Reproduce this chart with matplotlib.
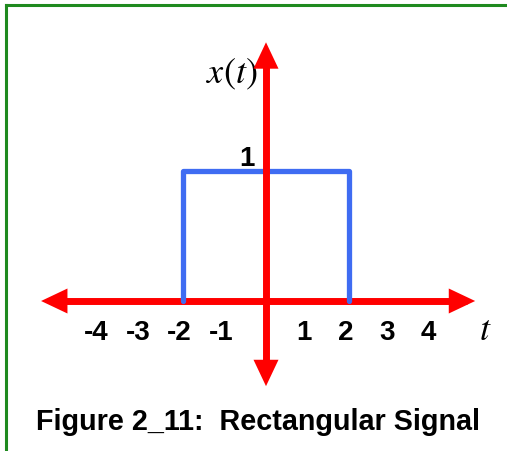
import matplotlib
matplotlib.use('Agg')
import matplotlib.pyplot as plt
from matplotlib.lines import Line2D

# signal: rectangular pulse of height 1 from t=-2 to t=2
pulse_t = [-2, -2, 2, 2]
pulse_x = [0, 1, 1, 0]
tick_vals = [-4, -3, -2, -1, 1, 2, 3, 4]
tick_labels = ['-4', '-3', '-2', '-1', '1', '2', '3', '4']
title = 'Figure 2_11:  Rectangular Signal'

RED = '#ff0000'
BLUE = '#3f6cf2'
GREEN = '#1f8a1f'

W, H = 507, 452
fig = plt.figure(figsize=(W / 100, H / 100), dpi=100)
ax = fig.add_axes([0, 0, 1, 1])
ax.axis('off')

# pixel mapping: t=0 at px 266, 41.5 px per unit; x=0 at py 302, 130 px per unit
x0, sx = 266, 41.5
y0, sy = 302, 130
ax.set_xlim((0 - x0) / sx, (W - x0) / sx)
ax.set_ylim((y0 - H) / sy, y0 / sy)

# axes lines (horizontal under the pulse, vertical above it)
ax.plot([-5.2, 4.85], [0, 0], color=RED, lw=5, solid_capstyle='butt', zorder=2)
ax.plot([0, 0], [-0.45, 1.8], color=RED, lw=5, solid_capstyle='butt', zorder=5)


def head(tip, tail, z):
    ax.annotate('', xy=tip, xytext=tail,
                arrowprops=dict(arrowstyle='-|>,head_length=19,head_width=9',
                                mutation_scale=1, lw=0, color=RED,
                                shrinkA=0, shrinkB=0), zorder=z)


head((-5.42, 0), (-4.5, 0), 3)
head((5.04, 0), (4.0, 0), 3)
head((0, 1.99), (0, 1.5), 6)
head((0, -0.655), (0, -0.3), 6)

# pulse
ax.plot(pulse_t, pulse_x, color=BLUE, lw=3.8, solid_joinstyle='round',
        solid_capstyle='round', zorder=4)

# tick labels
for v, lab in zip(tick_vals, tick_labels):
    ax.text(v - 0.08, -0.24, lab, ha='center', va='center', fontsize=20,
            fontweight='bold', family='Liberation Sans')
ax.text(-0.46, 1.1, '1', ha='center', va='center', fontsize=20,
        fontweight='bold', family='Liberation Sans', zorder=1)

plt.rcParams['mathtext.fontset'] = 'stix'
ax.text(-0.2, (y0 - 83) / sy, '$x(t)$', ha='right', va='baseline', fontsize=26)
ax.text((485 - x0) / sx, (y0 - 340) / sy, '$t$', ha='center', va='baseline',
        fontsize=26)

fig.text(258 / W, 1 - 430 / H, title, ha='center', va='baseline', fontsize=20.7,
         fontweight='bold', family='Liberation Sans')

# green frame (left and top edges)
fig.add_artist(Line2D([5.5 / W, 5.5 / W], [0, 1 - 6 / H], color=GREEN, lw=2.2,
                      transform=fig.transFigure, solid_capstyle='projecting'))
fig.add_artist(Line2D([5.5 / W, 1], [1 - 6 / H, 1 - 6 / H], color=GREEN, lw=2.2,
                      transform=fig.transFigure, solid_capstyle='projecting'))

fig.savefig('out.png', dpi=100)
